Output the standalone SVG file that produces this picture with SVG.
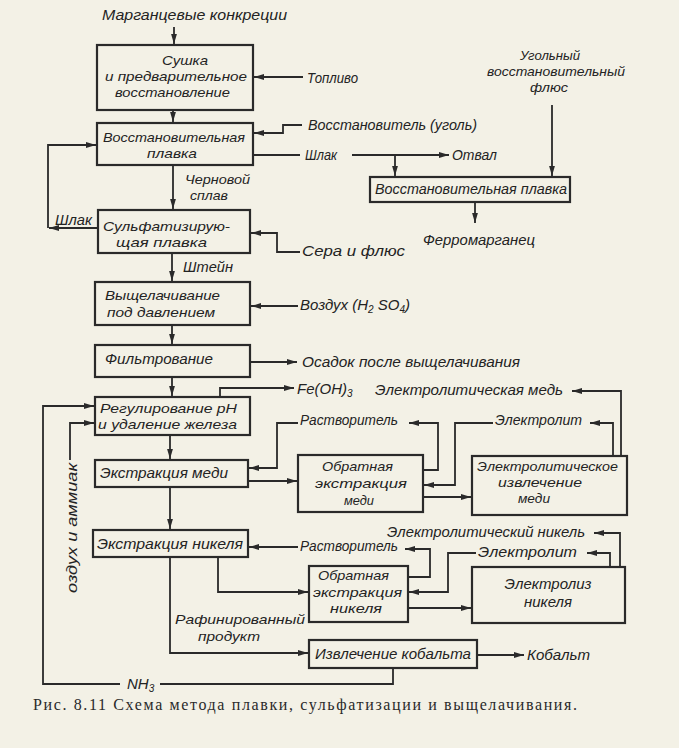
<svg xmlns="http://www.w3.org/2000/svg" width="679" height="748" viewBox="0 0 679 748">
<defs>
<marker id="ah" markerUnits="userSpaceOnUse" markerWidth="11" markerHeight="7" refX="10" refY="3.5" orient="auto">
<path d="M0,0.6 L10,3.5 L0,6.4 Z" fill="#2a2a2a"/>
</marker>
</defs>
<style>
.bx{fill:none;stroke:#2a2a2a;stroke-width:2.2}
.ln{fill:none;stroke:#2a2a2a;stroke-width:1.8}
.ar{fill:none;stroke:#2a2a2a;stroke-width:1.8;marker-end:url(#ah)}
text{font-family:"Liberation Sans",Arial,sans-serif;font-style:italic;font-size:15px;fill:#232323}
.m{font-size:13px}
.cap{font-family:"Liberation Serif","Times New Roman",serif;font-style:normal;font-size:16px;fill:#2a2a2a}
.sub{font-size:10px}
</style>
<rect width="679" height="748" fill="#f3f1e6"/>

<g id="connectors">
<path class="ar" d="M174,27 V44"/>
<path class="ar" d="M303,77 H254"/>
<path class="ar" d="M173,110 V122"/>
<path class="ar" d="M302,125 H283 V133 H254"/>
<path class="ln" d="M253,155 H300"/>
<path class="ar" d="M352,155 H449"/>
<path class="ar" d="M395,155 V176"/>
<path class="ar" d="M552,105 V176"/>
<path class="ar" d="M475,202 V223"/>
<path class="ar" d="M173,165 V209"/>
<path class="ar" d="M98,228 H49"/>
<path class="ar" d="M48,228 V145 H96"/>
<path class="ar" d="M300,252 H277 V233 H251"/>
<path class="ar" d="M172,253 V281"/>
<path class="ar" d="M298,306 H251"/>
<path class="ar" d="M172,325 V344"/>
<path class="ar" d="M250,362 H297"/>
<path class="ar" d="M172,377 V396"/>
<path class="ar" d="M220,397 V388 H294"/>
<path class="ln" d="M393,668 V684 H160"/>
<path class="ar" d="M120,684 H43 V406 H94"/>
<path class="ar" d="M70,460 V423 H94"/>
<path class="ar" d="M170,435 V459"/>
<path class="ar" d="M298,423 H277 V468 H249"/>
<path class="ar" d="M248,481 H297"/>
<path class="ar" d="M423,470 H438 V423 H409"/>
<path class="ar" d="M493,423 H455 V485 H424"/>
<path class="ar" d="M613,456 V423 H590"/>
<path class="ar" d="M423,497 H471"/>
<path class="ar" d="M621,456 V391 H572"/>
<path class="ar" d="M170,487 V529"/>
<path class="ar" d="M298,547 H249"/>
<path class="ar" d="M218,557 V592 H308"/>
<path class="ar" d="M408,577 H430 V549 H405"/>
<path class="ar" d="M476,553 H448 V592 H409"/>
<path class="ar" d="M610,567 V553 H587"/>
<path class="ar" d="M408,608 H471"/>
<path class="ar" d="M620,567 V533 H594"/>
<path class="ar" d="M170,557 V653 H308"/>
<path class="ar" d="M477,655 H524"/>
</g>

<g id="labels">
<text x="102" y="20" textLength="185" lengthAdjust="spacingAndGlyphs">Марганцевые конкреции</text>
<text x="307" y="83" textLength="51" lengthAdjust="spacingAndGlyphs">Топливо</text>
<text x="308" y="130" textLength="169" lengthAdjust="spacingAndGlyphs">Восстановитель (уголь)</text>
<text x="305" y="160" textLength="32" lengthAdjust="spacingAndGlyphs">Шлак</text>
<text x="452" y="160" textLength="45" lengthAdjust="spacingAndGlyphs">Отвал</text>
<text class="m" x="520" y="60" textLength="60" lengthAdjust="spacingAndGlyphs">Угольный</text>
<text class="m" x="487" y="76" textLength="138" lengthAdjust="spacingAndGlyphs">восстановительный</text>
<text class="m" x="530" y="92" textLength="38" lengthAdjust="spacingAndGlyphs">флюс</text>
<text x="423" y="245" textLength="112" lengthAdjust="spacingAndGlyphs">Ферромарганец</text>
<text class="m" x="185" y="184" textLength="65" lengthAdjust="spacingAndGlyphs">Черновой</text>
<text class="m" x="190" y="200" textLength="38" lengthAdjust="spacingAndGlyphs">сплав</text>
<text x="55" y="225" textLength="37" lengthAdjust="spacingAndGlyphs">Шлак</text>
<text x="302" y="256" textLength="103" lengthAdjust="spacingAndGlyphs">Сера и флюс</text>
<text x="183" y="272" textLength="50" lengthAdjust="spacingAndGlyphs">Штейн</text>
<text x="300" y="310">Воздух (H<tspan class="sub" dy="3">2</tspan><tspan dy="-3"> SO</tspan><tspan class="sub" dy="3">4</tspan><tspan dy="-3">)</tspan></text>
<text x="302" y="367" textLength="218" lengthAdjust="spacingAndGlyphs">Осадок после выщелачивания</text>
<text x="297" y="394">Fe(OH)<tspan class="sub" dy="3">3</tspan></text>
<text x="375" y="395" textLength="188" lengthAdjust="spacingAndGlyphs">Электролитическая медь</text>
<text x="300" y="425" textLength="98" lengthAdjust="spacingAndGlyphs">Растворитель</text>
<text x="495" y="425" textLength="87" lengthAdjust="spacingAndGlyphs">Электролит</text>
<text x="387" y="537" textLength="198" lengthAdjust="spacingAndGlyphs">Электролитический никель</text>
<text x="300" y="551" textLength="98" lengthAdjust="spacingAndGlyphs">Растворитель</text>
<text x="478" y="557" textLength="99" lengthAdjust="spacingAndGlyphs">Электролит</text>
<text class="m" x="175" y="624" textLength="130" lengthAdjust="spacingAndGlyphs">Рафинированный</text>
<text class="m" x="198" y="641" textLength="62" lengthAdjust="spacingAndGlyphs">продукт</text>
<text x="527" y="660" textLength="63" lengthAdjust="spacingAndGlyphs">Кобальт</text>
<text x="127" y="689">NH<tspan class="sub" dy="3">3</tspan></text>
<text transform="translate(77,528) rotate(-90)" text-anchor="middle" textLength="130" lengthAdjust="spacingAndGlyphs">оздух и аммиак</text>
</g>

<g id="n1"><rect class="bx" x="97" y="45" width="156" height="65"/>
<text class="m" x="162" y="65" textLength="46" lengthAdjust="spacingAndGlyphs">Сушка</text>
<text class="m" x="105" y="81" textLength="142" lengthAdjust="spacingAndGlyphs">и предварительное</text>
<text class="m" x="115" y="97" textLength="115" lengthAdjust="spacingAndGlyphs">восстановление</text></g>
<g id="n2"><rect class="bx" x="97" y="123" width="156" height="42"/>
<text class="m" x="103" y="142" textLength="142" lengthAdjust="spacingAndGlyphs">Восстановительная</text>
<text class="m" x="147" y="158" textLength="50" lengthAdjust="spacingAndGlyphs">плавка</text></g>
<g id="n3"><rect class="bx" x="98" y="210" width="152" height="43"/>
<text class="m" x="103" y="231" textLength="127" lengthAdjust="spacingAndGlyphs">Сульфатизирую-</text>
<text class="m" x="116" y="247" textLength="91" lengthAdjust="spacingAndGlyphs">щая плавка</text></g>
<g id="n4"><rect class="bx" x="95" y="282" width="155" height="43"/>
<text class="m" x="105" y="300" textLength="115" lengthAdjust="spacingAndGlyphs">Выщелачивание</text>
<text class="m" x="107" y="317" textLength="108" lengthAdjust="spacingAndGlyphs">под давлением</text></g>
<g id="n5"><rect class="bx" x="95" y="345" width="155" height="32"/>
<text x="105" y="364" textLength="108" lengthAdjust="spacingAndGlyphs">Фильтрование</text></g>
<g id="n6"><rect class="bx" x="95" y="397" width="155" height="38"/>
<text class="m" x="100" y="413" textLength="137" lengthAdjust="spacingAndGlyphs">Регулирование pH</text>
<text class="m" x="98" y="429" textLength="139" lengthAdjust="spacingAndGlyphs">и удаление железа</text></g>
<g id="n7"><rect class="bx" x="95" y="460" width="153" height="27"/>
<text x="100" y="478" textLength="128" lengthAdjust="spacingAndGlyphs">Экстракция меди</text></g>
<g id="n8"><rect class="bx" x="93" y="530" width="155" height="27"/>
<text x="97" y="549" textLength="146" lengthAdjust="spacingAndGlyphs">Экстракция никеля</text></g>
<g id="n9"><rect class="bx" x="370" y="177" width="200" height="25"/>
<text x="375" y="194" textLength="192" lengthAdjust="spacingAndGlyphs">Восстановительная плавка</text></g>
<g id="n10"><rect class="bx" x="298" y="455" width="125" height="57"/>
<text class="m" x="322" y="471" textLength="71" lengthAdjust="spacingAndGlyphs">Обратная</text>
<text class="m" x="315" y="488" textLength="92" lengthAdjust="spacingAndGlyphs">экстракция</text>
<text class="m" x="344" y="505" textLength="30" lengthAdjust="spacingAndGlyphs">меди</text></g>
<g id="n11"><rect class="bx" x="472" y="456" width="155" height="59"/>
<text class="m" x="477" y="471" textLength="141" lengthAdjust="spacingAndGlyphs">Электролитическое</text>
<text class="m" x="498" y="487" textLength="84" lengthAdjust="spacingAndGlyphs">извлечение</text>
<text class="m" x="518" y="503" textLength="32" lengthAdjust="spacingAndGlyphs">меди</text></g>
<g id="n12"><rect class="bx" x="309" y="566" width="99" height="56"/>
<text class="m" x="318" y="580" textLength="71" lengthAdjust="spacingAndGlyphs">Обратная</text>
<text class="m" x="313" y="597" textLength="89" lengthAdjust="spacingAndGlyphs">экстракция</text>
<text class="m" x="330" y="613" textLength="52" lengthAdjust="spacingAndGlyphs">никеля</text></g>
<g id="n13"><rect class="bx" x="472" y="567" width="153" height="56"/>
<text x="548" y="589" text-anchor="middle">Электролиз</text>
<text x="548" y="607" text-anchor="middle">никеля</text></g>
<g id="n14"><rect class="bx" x="309" y="640" width="168" height="28"/>
<text x="315" y="659" textLength="156" lengthAdjust="spacingAndGlyphs">Извлечение кобальта</text></g>

<text class="cap" x="33" y="710" textLength="544" lengthAdjust="spacing">Рис. 8.11 Схема метода плавки, сульфатизации и выщелачивания.</text>
</svg>
